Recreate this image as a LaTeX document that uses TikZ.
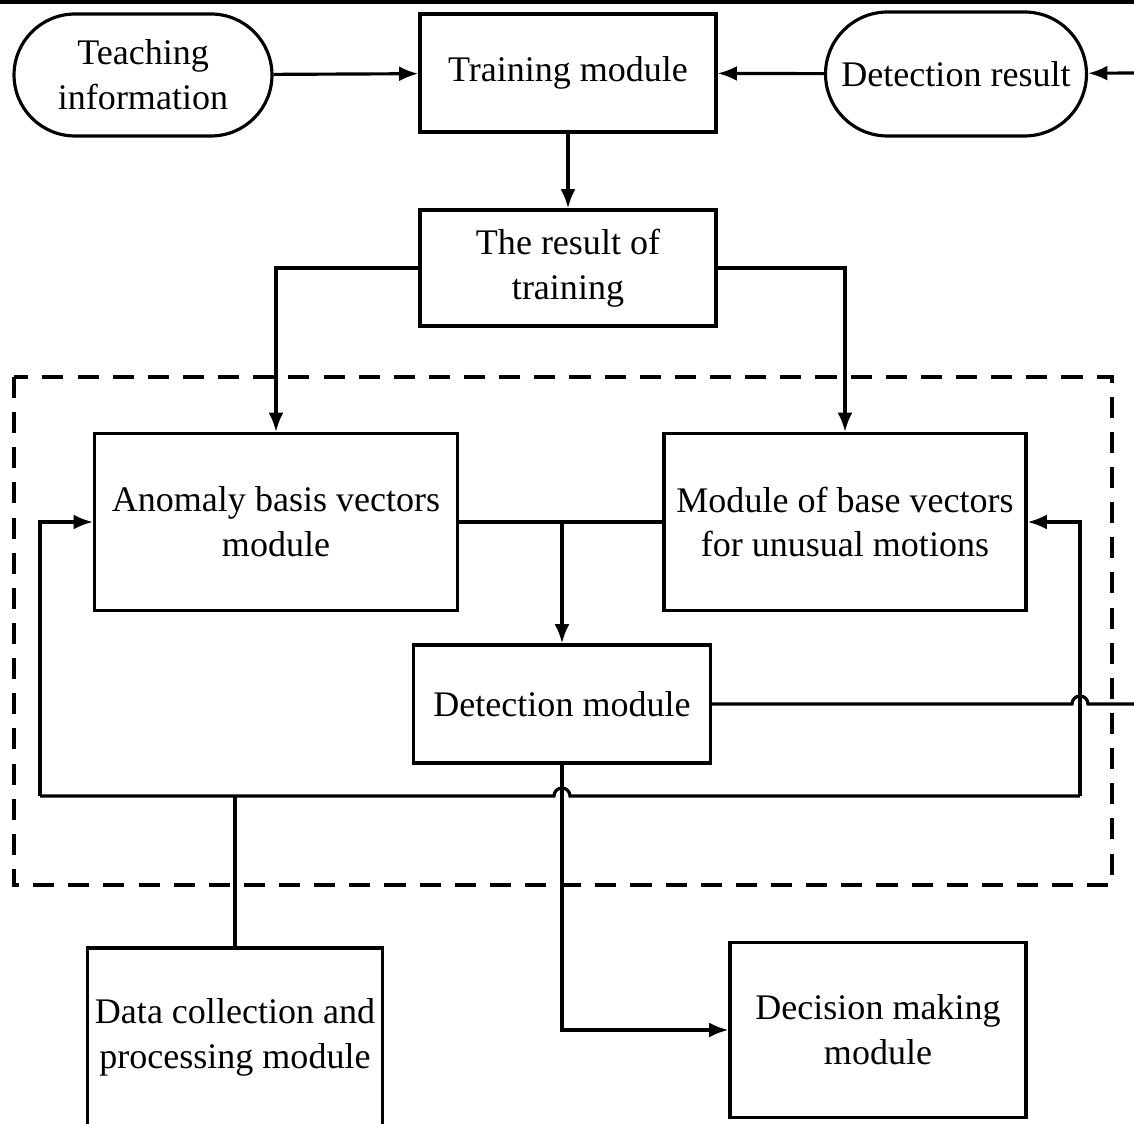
\documentclass[tikz,border=0pt]{standalone}
\usepackage{fontspec}
\setmainfont{Liberation Serif}
\usepackage{tikz}
\usetikzlibrary{shapes.misc,arrows.meta}

\begin{document}
\begin{tikzpicture}[x=0.02cm,y=-0.02cm,line width=1.8pt,>={Latex[length=11pt,width=8.5pt]}]
			\tikzstyle{block} = [rectangle,draw,inner sep=0pt,align=center,font=\fontsize{20.5}{25.6}\selectfont]
			\tikzstyle{term}  = [rounded rectangle,draw,inner sep=0pt,align=center,font=\fontsize{20.5}{25.6}\selectfont]
			\useasboundingbox (0,0) rectangle (1134,1124);
			\draw[line width=3pt] (0,1) -- (1134,1);
			
			\node[term, minimum width=5.16cm,minimum height=2.44cm] (teach)  at (143,75)  {Teaching\\information};
			\node[block,minimum width=5.92cm,minimum height=2.36cm] (train)  at (568,73)  {Training module};
			\node[term, minimum width=5.22cm,minimum height=2.48cm] (detres) at (956,74)  {Detection result};
			\node[block,minimum width=5.92cm,minimum height=2.32cm] (result) at (568,268) {The result of\\training};
			\node[block,minimum width=7.26cm,minimum height=3.54cm] (anomaly) at (276,522) {Anomaly basis vectors\\module};
			\node[block,minimum width=7.24cm,minimum height=3.54cm] (unusual) at (845,522) {Module of base vectors\\for unusual motions};
			\node[block,minimum width=5.94cm,minimum height=2.36cm] (detect) at (562,704) {Detection module};
			\node[block,minimum width=5.90cm,minimum height=3.56cm] (collect) at (235,1037) {Data collection and\\processing module};
			\node[block,minimum width=5.92cm,minimum height=3.50cm] (decide) at (878,1030) {Decision making\\module};
			
			% monitoring frame
			\draw[dash pattern=on 12pt off 8pt] (14,377) rectangle (1112,885);
			
			\coordinate (din)  at (1134,73);
			\coordinate (dout) at (1134,704);
			\coordinate (bl)   at (40,796);
			\coordinate (br)   at (1080,796);
			
			\draw[->] (teach) -- (train);
			\draw[->] (detres) -- (train);
			\draw[->] (din) -- (detres);
			\draw[->] (train) -- (result);
			\draw[->] (result.west) -| (anomaly.north);
			\draw[->] (result.east) -| (unusual.north);
			\draw (anomaly.east) -- (unusual.west);
			\draw[->] (anomaly.east -| detect.north) -- (detect.north);
			\draw (detect.east) -- (1072,704) arc[start angle=180,end angle=0,radius=0.16cm] -- (dout);
			\draw (bl) -- (554,796) arc[start angle=180,end angle=0,radius=0.16cm] -- (br);
			\draw[->] (bl) -- (bl |- anomaly.west) -- (anomaly.west);
			\draw[->] (br) -- (br |- unusual.east) -- (unusual.east);
			\draw (collect.north) -- (collect.north |- bl);
			\draw[->] (detect.south) |- (decide.west);
		\end{tikzpicture}
\end{document}
